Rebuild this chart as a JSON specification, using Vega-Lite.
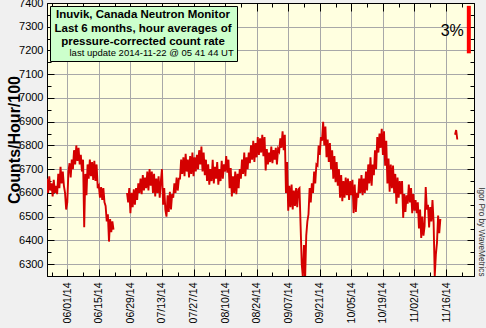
{
"$schema": "https://vega.github.io/schema/vega-lite/v6.json",
"width": 427, "height": 273,
"autosize": {"type": "none"},
"padding": {"left": 47, "top": 3, "right": 12, "bottom": 52},
"background": "#f0f0f0",
"config": {
  "font": "Liberation Sans",
  "view": {"fill": "#ffffe0", "stroke": "#000000", "strokeWidth": 1},
  "axis": {"domainColor": "#000000", "tickColor": "#000000", "gridColor": "#a8a8a8", "gridWidth": 1, "labelColor": "#000000", "labelFont": "Liberation Sans", "titleFont": "Liberation Sans", "labelOverlap": false, "labelFlush": false, "labelBound": false, "domainWidth": 1, "tickWidth": 1}
},
"datasets": {
  "counts": [
{"t":"2014-05-23T00:00Z","v":6660,"seg":"a"},{"t":"2014-05-23T12:00Z","v":6600,"seg":"a"},
{"t":"2014-05-24T00:00Z","v":6670,"seg":"a"},{"t":"2014-05-24T12:00Z","v":6610,"seg":"a"},
{"t":"2014-05-25T00:00Z","v":6640,"seg":"a"},{"t":"2014-05-25T12:00Z","v":6585,"seg":"a"},
{"t":"2014-05-26T00:00Z","v":6655,"seg":"a"},{"t":"2014-05-26T12:00Z","v":6600,"seg":"a"},
{"t":"2014-05-27T00:00Z","v":6630,"seg":"a"},{"t":"2014-05-27T12:00Z","v":6595,"seg":"a"},
{"t":"2014-05-28T00:00Z","v":6680,"seg":"a"},{"t":"2014-05-28T12:00Z","v":6620,"seg":"a"},
{"t":"2014-05-29T00:00Z","v":6710,"seg":"a"},{"t":"2014-05-29T12:00Z","v":6640,"seg":"a"},
{"t":"2014-05-30T00:00Z","v":6690,"seg":"a"},{"t":"2014-05-30T12:00Z","v":6630,"seg":"a"},
{"t":"2014-05-31T00:00Z","v":6600,"seg":"a"},{"t":"2014-05-31T12:00Z","v":6530,"seg":"a"},
{"t":"2014-06-01T00:00Z","v":6560,"seg":"a"},{"t":"2014-06-01T12:00Z","v":6690,"seg":"a"},
{"t":"2014-06-02T00:00Z","v":6725,"seg":"a"},{"t":"2014-06-02T12:00Z","v":6665,"seg":"a"},
{"t":"2014-06-03T00:00Z","v":6740,"seg":"a"},{"t":"2014-06-03T12:00Z","v":6700,"seg":"a"},
{"t":"2014-06-04T00:00Z","v":6780,"seg":"a"},{"t":"2014-06-04T12:00Z","v":6720,"seg":"a"},
{"t":"2014-06-05T00:00Z","v":6800,"seg":"a"},{"t":"2014-06-05T12:00Z","v":6735,"seg":"a"},
{"t":"2014-06-06T00:00Z","v":6790,"seg":"a"},{"t":"2014-06-06T12:00Z","v":6720,"seg":"a"},
{"t":"2014-06-07T00:00Z","v":6760,"seg":"a"},{"t":"2014-06-07T12:00Z","v":6690,"seg":"a"},
{"t":"2014-06-08T00:00Z","v":6740,"seg":"a"},{"t":"2014-06-08T12:00Z","v":6455,"seg":"a"},
{"t":"2014-06-09T00:00Z","v":6680,"seg":"a"},{"t":"2014-06-09T12:00Z","v":6590,"seg":"a"},
{"t":"2014-06-10T00:00Z","v":6720,"seg":"a"},{"t":"2014-06-10T12:00Z","v":6660,"seg":"a"},
{"t":"2014-06-11T00:00Z","v":6740,"seg":"a"},{"t":"2014-06-11T12:00Z","v":6670,"seg":"a"},
{"t":"2014-06-12T00:00Z","v":6730,"seg":"a"},{"t":"2014-06-12T12:00Z","v":6655,"seg":"a"},
{"t":"2014-06-13T00:00Z","v":6735,"seg":"a"},{"t":"2014-06-13T12:00Z","v":6650,"seg":"a"},
{"t":"2014-06-14T00:00Z","v":6720,"seg":"a"},{"t":"2014-06-14T12:00Z","v":6620,"seg":"a"},
{"t":"2014-06-15T00:00Z","v":6630,"seg":"a"},{"t":"2014-06-15T12:00Z","v":6580,"seg":"a"},
{"t":"2014-06-16T00:00Z","v":6625,"seg":"a"},{"t":"2014-06-16T12:00Z","v":6570,"seg":"a"},
{"t":"2014-06-17T00:00Z","v":6620,"seg":"a"},{"t":"2014-06-17T12:00Z","v":6560,"seg":"a"},
{"t":"2014-06-18T00:00Z","v":6545,"seg":"a"},{"t":"2014-06-18T12:00Z","v":6480,"seg":"a"},
{"t":"2014-06-19T00:00Z","v":6510,"seg":"a"},{"t":"2014-06-19T12:00Z","v":6395,"seg":"a"},
{"t":"2014-06-20T00:00Z","v":6490,"seg":"a"},{"t":"2014-06-20T12:00Z","v":6435,"seg":"a"},
{"t":"2014-06-21T00:00Z","v":6480,"seg":"a"},{"t":"2014-06-21T12:00Z","v":6445,"seg":"a"},
{"t":"2014-06-27T12:00Z","v":6600,"seg":"b"},
{"t":"2014-06-28T00:00Z","v":6560,"seg":"b"},{"t":"2014-06-28T12:00Z","v":6620,"seg":"b"},
{"t":"2014-06-29T00:00Z","v":6515,"seg":"b"},{"t":"2014-06-29T12:00Z","v":6600,"seg":"b"},
{"t":"2014-06-30T00:00Z","v":6540,"seg":"b"},{"t":"2014-06-30T12:00Z","v":6615,"seg":"b"},
{"t":"2014-07-01T00:00Z","v":6550,"seg":"b"},{"t":"2014-07-01T12:00Z","v":6620,"seg":"b"},
{"t":"2014-07-02T00:00Z","v":6570,"seg":"b"},{"t":"2014-07-02T12:00Z","v":6640,"seg":"b"},
{"t":"2014-07-03T00:00Z","v":6600,"seg":"b"},{"t":"2014-07-03T12:00Z","v":6660,"seg":"b"},
{"t":"2014-07-04T00:00Z","v":6595,"seg":"b"},{"t":"2014-07-04T12:00Z","v":6675,"seg":"b"},
{"t":"2014-07-05T00:00Z","v":6610,"seg":"b"},{"t":"2014-07-05T12:00Z","v":6665,"seg":"b"},
{"t":"2014-07-06T00:00Z","v":6620,"seg":"b"},{"t":"2014-07-06T12:00Z","v":6690,"seg":"b"},
{"t":"2014-07-07T00:00Z","v":6610,"seg":"b"},{"t":"2014-07-07T12:00Z","v":6700,"seg":"b"},
{"t":"2014-07-08T00:00Z","v":6630,"seg":"b"},{"t":"2014-07-08T12:00Z","v":6690,"seg":"b"},
{"t":"2014-07-09T00:00Z","v":6600,"seg":"b"},{"t":"2014-07-09T12:00Z","v":6680,"seg":"b"},
{"t":"2014-07-10T00:00Z","v":6585,"seg":"b"},{"t":"2014-07-10T12:00Z","v":6660,"seg":"b"},
{"t":"2014-07-11T00:00Z","v":6600,"seg":"b"},{"t":"2014-07-11T12:00Z","v":6670,"seg":"b"},
{"t":"2014-07-12T00:00Z","v":6580,"seg":"b"},{"t":"2014-07-12T12:00Z","v":6650,"seg":"b"},
{"t":"2014-07-13T00:00Z","v":6700,"seg":"b"},{"t":"2014-07-13T12:00Z","v":6550,"seg":"b"},
{"t":"2014-07-14T00:00Z","v":6620,"seg":"b"},{"t":"2014-07-14T12:00Z","v":6530,"seg":"b"},
{"t":"2014-07-15T00:00Z","v":6500,"seg":"b"},{"t":"2014-07-15T12:00Z","v":6590,"seg":"b"},
{"t":"2014-07-16T00:00Z","v":6520,"seg":"b"},{"t":"2014-07-16T12:00Z","v":6605,"seg":"b"},
{"t":"2014-07-17T00:00Z","v":6530,"seg":"b"},{"t":"2014-07-17T12:00Z","v":6595,"seg":"b"},
{"t":"2014-07-18T00:00Z","v":6580,"seg":"b"},{"t":"2014-07-18T12:00Z","v":6640,"seg":"b"},
{"t":"2014-07-19T00:00Z","v":6600,"seg":"b"},{"t":"2014-07-19T12:00Z","v":6665,"seg":"b"},
{"t":"2014-07-20T00:00Z","v":6610,"seg":"b"},{"t":"2014-07-20T12:00Z","v":6660,"seg":"b"},
{"t":"2014-07-21T00:00Z","v":6660,"seg":"b"},{"t":"2014-07-21T12:00Z","v":6740,"seg":"b"},
{"t":"2014-07-22T00:00Z","v":6680,"seg":"b"},{"t":"2014-07-22T12:00Z","v":6750,"seg":"b"},
{"t":"2014-07-23T00:00Z","v":6670,"seg":"b"},{"t":"2014-07-23T12:00Z","v":6765,"seg":"b"},
{"t":"2014-07-24T00:00Z","v":6690,"seg":"b"},{"t":"2014-07-24T12:00Z","v":6740,"seg":"b"},
{"t":"2014-07-25T00:00Z","v":6665,"seg":"b"},{"t":"2014-07-25T12:00Z","v":6755,"seg":"b"},
{"t":"2014-07-26T00:00Z","v":6680,"seg":"b"},{"t":"2014-07-26T12:00Z","v":6770,"seg":"b"},
{"t":"2014-07-27T00:00Z","v":6670,"seg":"b"},{"t":"2014-07-27T12:00Z","v":6750,"seg":"b"},
{"t":"2014-07-28T00:00Z","v":6690,"seg":"b"},{"t":"2014-07-28T12:00Z","v":6760,"seg":"b"},
{"t":"2014-07-29T00:00Z","v":6700,"seg":"b"},{"t":"2014-07-29T12:00Z","v":6780,"seg":"b"},
{"t":"2014-07-30T00:00Z","v":6720,"seg":"b"},{"t":"2014-07-30T12:00Z","v":6795,"seg":"b"},
{"t":"2014-07-31T00:00Z","v":6690,"seg":"b"},{"t":"2014-07-31T12:00Z","v":6770,"seg":"b"},
{"t":"2014-08-01T00:00Z","v":6675,"seg":"b"},{"t":"2014-08-01T12:00Z","v":6740,"seg":"b"},
{"t":"2014-08-02T00:00Z","v":6650,"seg":"b"},{"t":"2014-08-02T12:00Z","v":6720,"seg":"b"},
{"t":"2014-08-03T00:00Z","v":6635,"seg":"b"},{"t":"2014-08-03T12:00Z","v":6700,"seg":"b"},
{"t":"2014-08-04T00:00Z","v":6650,"seg":"b"},{"t":"2014-08-04T12:00Z","v":6740,"seg":"b"},
{"t":"2014-08-05T00:00Z","v":6640,"seg":"b"},{"t":"2014-08-05T12:00Z","v":6710,"seg":"b"},
{"t":"2014-08-06T00:00Z","v":6660,"seg":"b"},{"t":"2014-08-06T12:00Z","v":6730,"seg":"b"},
{"t":"2014-08-07T00:00Z","v":6635,"seg":"b"},{"t":"2014-08-07T12:00Z","v":6700,"seg":"b"},
{"t":"2014-08-08T00:00Z","v":6650,"seg":"b"},{"t":"2014-08-08T12:00Z","v":6735,"seg":"b"},
{"t":"2014-08-09T00:00Z","v":6660,"seg":"b"},{"t":"2014-08-09T12:00Z","v":6720,"seg":"b"},
{"t":"2014-08-10T00:00Z","v":6690,"seg":"b"},{"t":"2014-08-10T12:00Z","v":6755,"seg":"b"},
{"t":"2014-08-11T00:00Z","v":6685,"seg":"b"},{"t":"2014-08-11T12:00Z","v":6740,"seg":"b"},
{"t":"2014-08-12T00:00Z","v":6620,"seg":"b"},{"t":"2014-08-12T12:00Z","v":6705,"seg":"b"},
{"t":"2014-08-13T00:00Z","v":6585,"seg":"b"},{"t":"2014-08-13T12:00Z","v":6670,"seg":"b"},
{"t":"2014-08-14T00:00Z","v":6600,"seg":"b"},{"t":"2014-08-14T12:00Z","v":6690,"seg":"b"},
{"t":"2014-08-15T00:00Z","v":6595,"seg":"b"},{"t":"2014-08-15T12:00Z","v":6680,"seg":"b"},
{"t":"2014-08-16T00:00Z","v":6620,"seg":"b"},{"t":"2014-08-16T12:00Z","v":6700,"seg":"b"},
{"t":"2014-08-17T00:00Z","v":6660,"seg":"b"},{"t":"2014-08-17T12:00Z","v":6740,"seg":"b"},
{"t":"2014-08-18T00:00Z","v":6680,"seg":"b"},{"t":"2014-08-18T12:00Z","v":6770,"seg":"b"},
{"t":"2014-08-19T00:00Z","v":6670,"seg":"b"},{"t":"2014-08-19T12:00Z","v":6750,"seg":"b"},
{"t":"2014-08-20T00:00Z","v":6700,"seg":"b"},{"t":"2014-08-20T12:00Z","v":6770,"seg":"b"},
{"t":"2014-08-21T00:00Z","v":6725,"seg":"b"},{"t":"2014-08-21T12:00Z","v":6800,"seg":"b"},
{"t":"2014-08-22T00:00Z","v":6740,"seg":"b"},{"t":"2014-08-22T12:00Z","v":6820,"seg":"b"},
{"t":"2014-08-23T00:00Z","v":6730,"seg":"b"},{"t":"2014-08-23T12:00Z","v":6810,"seg":"b"},
{"t":"2014-08-24T00:00Z","v":6750,"seg":"b"},{"t":"2014-08-24T12:00Z","v":6835,"seg":"b"},
{"t":"2014-08-25T00:00Z","v":6760,"seg":"b"},{"t":"2014-08-25T12:00Z","v":6830,"seg":"b"},
{"t":"2014-08-26T00:00Z","v":6770,"seg":"b"},{"t":"2014-08-26T12:00Z","v":6845,"seg":"b"},
{"t":"2014-08-27T00:00Z","v":6755,"seg":"b"},{"t":"2014-08-27T12:00Z","v":6835,"seg":"b"},
{"t":"2014-08-28T00:00Z","v":6695,"seg":"b"},{"t":"2014-08-28T12:00Z","v":6785,"seg":"b"},
{"t":"2014-08-29T00:00Z","v":6720,"seg":"b"},{"t":"2014-08-29T12:00Z","v":6770,"seg":"b"},
{"t":"2014-08-30T00:00Z","v":6730,"seg":"b"},{"t":"2014-08-30T12:00Z","v":6795,"seg":"b"},
{"t":"2014-08-31T00:00Z","v":6725,"seg":"b"},{"t":"2014-08-31T12:00Z","v":6780,"seg":"b"},
{"t":"2014-09-01T00:00Z","v":6740,"seg":"b"},{"t":"2014-09-01T12:00Z","v":6790,"seg":"b"},
{"t":"2014-09-02T00:00Z","v":6720,"seg":"b"},{"t":"2014-09-02T12:00Z","v":6785,"seg":"b"},
{"t":"2014-09-03T00:00Z","v":6775,"seg":"b"},{"t":"2014-09-03T12:00Z","v":6830,"seg":"b"},
{"t":"2014-09-04T00:00Z","v":6790,"seg":"b"},{"t":"2014-09-04T12:00Z","v":6860,"seg":"b"},
{"t":"2014-09-05T00:00Z","v":6780,"seg":"b"},{"t":"2014-09-05T12:00Z","v":6845,"seg":"b"},
{"t":"2014-09-06T00:00Z","v":6600,"seg":"b"},{"t":"2014-09-06T12:00Z","v":6730,"seg":"b"},
{"t":"2014-09-07T00:00Z","v":6525,"seg":"b"},{"t":"2014-09-07T12:00Z","v":6630,"seg":"b"},
{"t":"2014-09-08T00:00Z","v":6540,"seg":"b"},{"t":"2014-09-08T12:00Z","v":6635,"seg":"b"},
{"t":"2014-09-09T00:00Z","v":6530,"seg":"b"},{"t":"2014-09-09T12:00Z","v":6610,"seg":"b"},
{"t":"2014-09-10T00:00Z","v":6545,"seg":"b"},{"t":"2014-09-10T12:00Z","v":6620,"seg":"b"},
{"t":"2014-09-11T00:00Z","v":6540,"seg":"b"},{"t":"2014-09-11T12:00Z","v":6615,"seg":"b"},
{"t":"2014-09-12T00:00Z","v":6620,"seg":"b"},{"t":"2014-09-12T12:00Z","v":6460,"seg":"b"},
{"t":"2014-09-13T00:00Z","v":6300,"seg":"b"},{"t":"2014-09-13T12:00Z","v":6245,"seg":"b"},
{"t":"2014-09-14T00:00Z","v":6380,"seg":"b"},{"t":"2014-09-14T12:00Z","v":6240,"seg":"b"},
{"t":"2014-09-15T00:00Z","v":6420,"seg":"b"},{"t":"2014-09-15T12:00Z","v":6480,"seg":"b"},
{"t":"2014-09-16T00:00Z","v":6510,"seg":"b"},{"t":"2014-09-16T12:00Z","v":6620,"seg":"b"},
{"t":"2014-09-17T00:00Z","v":6560,"seg":"b"},{"t":"2014-09-17T12:00Z","v":6640,"seg":"b"},
{"t":"2014-09-18T00:00Z","v":6600,"seg":"b"},{"t":"2014-09-18T12:00Z","v":6690,"seg":"b"},
{"t":"2014-09-19T00:00Z","v":6640,"seg":"b"},{"t":"2014-09-19T12:00Z","v":6720,"seg":"b"},
{"t":"2014-09-20T00:00Z","v":6715,"seg":"b"},{"t":"2014-09-20T12:00Z","v":6800,"seg":"b"},
{"t":"2014-09-21T00:00Z","v":6760,"seg":"b"},{"t":"2014-09-21T12:00Z","v":6835,"seg":"b"},
{"t":"2014-09-22T00:00Z","v":6820,"seg":"b"},{"t":"2014-09-22T12:00Z","v":6900,"seg":"b"},
{"t":"2014-09-23T00:00Z","v":6800,"seg":"b"},{"t":"2014-09-23T12:00Z","v":6880,"seg":"b"},
{"t":"2014-09-24T00:00Z","v":6750,"seg":"b"},{"t":"2014-09-24T12:00Z","v":6825,"seg":"b"},
{"t":"2014-09-25T00:00Z","v":6730,"seg":"b"},{"t":"2014-09-25T12:00Z","v":6810,"seg":"b"},
{"t":"2014-09-26T00:00Z","v":6700,"seg":"b"},{"t":"2014-09-26T12:00Z","v":6780,"seg":"b"},
{"t":"2014-09-27T00:00Z","v":6660,"seg":"b"},{"t":"2014-09-27T12:00Z","v":6755,"seg":"b"},
{"t":"2014-09-28T00:00Z","v":6645,"seg":"b"},{"t":"2014-09-28T12:00Z","v":6730,"seg":"b"},
{"t":"2014-09-29T00:00Z","v":6630,"seg":"b"},{"t":"2014-09-29T12:00Z","v":6700,"seg":"b"},
{"t":"2014-09-30T00:00Z","v":6580,"seg":"b"},{"t":"2014-09-30T12:00Z","v":6675,"seg":"b"},
{"t":"2014-10-01T00:00Z","v":6565,"seg":"b"},{"t":"2014-10-01T12:00Z","v":6650,"seg":"b"},
{"t":"2014-10-02T00:00Z","v":6580,"seg":"b"},{"t":"2014-10-02T12:00Z","v":6665,"seg":"b"},
{"t":"2014-10-03T00:00Z","v":6590,"seg":"b"},{"t":"2014-10-03T12:00Z","v":6660,"seg":"b"},
{"t":"2014-10-04T00:00Z","v":6570,"seg":"b"},{"t":"2014-10-04T12:00Z","v":6650,"seg":"b"},
{"t":"2014-10-05T00:00Z","v":6590,"seg":"b"},{"t":"2014-10-05T12:00Z","v":6655,"seg":"b"},
{"t":"2014-10-06T00:00Z","v":6515,"seg":"b"},{"t":"2014-10-06T12:00Z","v":6635,"seg":"b"},
{"t":"2014-10-07T00:00Z","v":6520,"seg":"b"},{"t":"2014-10-07T12:00Z","v":6600,"seg":"b"},
{"t":"2014-10-08T00:00Z","v":6580,"seg":"b"},{"t":"2014-10-08T12:00Z","v":6660,"seg":"b"},
{"t":"2014-10-09T00:00Z","v":6600,"seg":"b"},{"t":"2014-10-09T12:00Z","v":6675,"seg":"b"},
{"t":"2014-10-10T00:00Z","v":6590,"seg":"b"},{"t":"2014-10-10T12:00Z","v":6660,"seg":"b"},
{"t":"2014-10-11T00:00Z","v":6600,"seg":"b"},{"t":"2014-10-11T12:00Z","v":6690,"seg":"b"},
{"t":"2014-10-12T00:00Z","v":6610,"seg":"b"},{"t":"2014-10-12T12:00Z","v":6720,"seg":"b"},
{"t":"2014-10-13T00:00Z","v":6640,"seg":"b"},{"t":"2014-10-13T12:00Z","v":6750,"seg":"b"},
{"t":"2014-10-14T00:00Z","v":6630,"seg":"b"},{"t":"2014-10-14T12:00Z","v":6720,"seg":"b"},
{"t":"2014-10-15T00:00Z","v":6675,"seg":"b"},{"t":"2014-10-15T12:00Z","v":6780,"seg":"b"},
{"t":"2014-10-16T00:00Z","v":6700,"seg":"b"},{"t":"2014-10-16T12:00Z","v":6835,"seg":"b"},
{"t":"2014-10-17T00:00Z","v":6770,"seg":"b"},{"t":"2014-10-17T12:00Z","v":6850,"seg":"b"},
{"t":"2014-10-18T00:00Z","v":6790,"seg":"b"},{"t":"2014-10-18T12:00Z","v":6870,"seg":"b"},
{"t":"2014-10-19T00:00Z","v":6760,"seg":"b"},{"t":"2014-10-19T12:00Z","v":6860,"seg":"b"},
{"t":"2014-10-20T00:00Z","v":6715,"seg":"b"},{"t":"2014-10-20T12:00Z","v":6820,"seg":"b"},
{"t":"2014-10-21T00:00Z","v":6640,"seg":"b"},{"t":"2014-10-21T12:00Z","v":6745,"seg":"b"},
{"t":"2014-10-22T00:00Z","v":6605,"seg":"b"},{"t":"2014-10-22T12:00Z","v":6720,"seg":"b"},
{"t":"2014-10-23T00:00Z","v":6620,"seg":"b"},{"t":"2014-10-23T12:00Z","v":6715,"seg":"b"},
{"t":"2014-10-24T00:00Z","v":6600,"seg":"b"},{"t":"2014-10-24T12:00Z","v":6680,"seg":"b"},
{"t":"2014-10-25T00:00Z","v":6555,"seg":"b"},{"t":"2014-10-25T12:00Z","v":6665,"seg":"b"},
{"t":"2014-10-26T00:00Z","v":6580,"seg":"b"},{"t":"2014-10-26T12:00Z","v":6650,"seg":"b"},
{"t":"2014-10-27T00:00Z","v":6595,"seg":"b"},{"t":"2014-10-27T12:00Z","v":6650,"seg":"b"},
{"t":"2014-10-28T00:00Z","v":6495,"seg":"b"},{"t":"2014-10-28T12:00Z","v":6595,"seg":"b"},
{"t":"2014-10-29T00:00Z","v":6520,"seg":"b"},{"t":"2014-10-29T12:00Z","v":6590,"seg":"b"},
{"t":"2014-10-30T00:00Z","v":6555,"seg":"b"},{"t":"2014-10-30T12:00Z","v":6635,"seg":"b"},
{"t":"2014-10-31T00:00Z","v":6560,"seg":"b"},{"t":"2014-10-31T12:00Z","v":6620,"seg":"b"},
{"t":"2014-11-01T00:00Z","v":6515,"seg":"b"},{"t":"2014-11-01T12:00Z","v":6595,"seg":"b"},
{"t":"2014-11-02T00:00Z","v":6525,"seg":"b"},{"t":"2014-11-02T12:00Z","v":6570,"seg":"b"},
{"t":"2014-11-03T00:00Z","v":6515,"seg":"b"},{"t":"2014-11-03T12:00Z","v":6560,"seg":"b"},
{"t":"2014-11-04T00:00Z","v":6450,"seg":"b"},{"t":"2014-11-04T12:00Z","v":6530,"seg":"b"},
{"t":"2014-11-05T00:00Z","v":6410,"seg":"b"},{"t":"2014-11-05T12:00Z","v":6500,"seg":"b"},
{"t":"2014-11-06T00:00Z","v":6420,"seg":"b"},{"t":"2014-11-06T12:00Z","v":6460,"seg":"b"},
{"t":"2014-11-07T00:00Z","v":6625,"seg":"b"},{"t":"2014-11-07T12:00Z","v":6530,"seg":"b"},
{"t":"2014-11-08T00:00Z","v":6550,"seg":"b"},{"t":"2014-11-08T12:00Z","v":6455,"seg":"b"},
{"t":"2014-11-09T00:00Z","v":6540,"seg":"b"},{"t":"2014-11-09T12:00Z","v":6480,"seg":"b"},
{"t":"2014-11-10T00:00Z","v":6570,"seg":"b"},{"t":"2014-11-10T12:00Z","v":6475,"seg":"b"},
{"t":"2014-11-11T00:00Z","v":6250,"seg":"b"},{"t":"2014-11-11T12:00Z","v":6340,"seg":"b"},
{"t":"2014-11-12T00:00Z","v":6390,"seg":"b"},{"t":"2014-11-12T12:00Z","v":6505,"seg":"b"},
{"t":"2014-11-13T00:00Z","v":6430,"seg":"b"},{"t":"2014-11-13T12:00Z","v":6490,"seg":"b"},
{"t":"2014-11-20T00:00Z","v":6845,"seg":"c"},{"t":"2014-11-20T12:00Z","v":6865,"seg":"c"},
{"t":"2014-11-21T00:00Z","v":6825,"seg":"c"}
  ],
  "scalebar": [
    {"t": "2014-11-26T03:00Z", "hi": 7388, "lo": 7188, "mid": 7282, "label": "3%", "note": "last update 2014-11-22 @ 05 41 44 UT"}
  ]
},
"layer": [
  {
    "data": {"name": "counts"},
    "mark": {"type": "line", "color": "#d40000", "strokeWidth": 1.9, "clip": true},
    "encoding": {
      "x": {"field": "t", "type": "temporal",
        "scale": {"type": "utc", "domain": [{"year": 2014, "month": 5, "date": 23, "utc": true}, {"year": 2014, "month": 11, "date": 28, "hours": 10, "utc": true}]},
        "axis": {"orient": "bottom", "title": null, "grid": true,
          "values": [{"year":2014,"month":5,"date":25,"utc":true},{"year":2014,"month":6,"date":1,"utc":true},{"year":2014,"month":6,"date":8,"utc":true},{"year":2014,"month":6,"date":15,"utc":true},{"year":2014,"month":6,"date":22,"utc":true},{"year":2014,"month":6,"date":29,"utc":true},{"year":2014,"month":7,"date":6,"utc":true},{"year":2014,"month":7,"date":13,"utc":true},{"year":2014,"month":7,"date":20,"utc":true},{"year":2014,"month":7,"date":27,"utc":true},{"year":2014,"month":8,"date":3,"utc":true},{"year":2014,"month":8,"date":10,"utc":true},{"year":2014,"month":8,"date":17,"utc":true},{"year":2014,"month":8,"date":24,"utc":true},{"year":2014,"month":8,"date":31,"utc":true},{"year":2014,"month":9,"date":7,"utc":true},{"year":2014,"month":9,"date":14,"utc":true},{"year":2014,"month":9,"date":21,"utc":true},{"year":2014,"month":9,"date":28,"utc":true},{"year":2014,"month":10,"date":5,"utc":true},{"year":2014,"month":10,"date":12,"utc":true},{"year":2014,"month":10,"date":19,"utc":true},{"year":2014,"month":10,"date":26,"utc":true},{"year":2014,"month":11,"date":2,"utc":true},{"year":2014,"month":11,"date":9,"utc":true},{"year":2014,"month":11,"date":16,"utc":true},{"year":2014,"month":11,"date":23,"utc":true}],
          "labelExpr": "round((datum.value - 1401580800000) / 86400000) % 14 == 0 ? utcFormat(datum.value, '%m/%d/%y') : ''",
          "gridOpacity": {"condition": {"test": "round((datum.value - 1401580800000) / 86400000) % 14 == 0", "value": 1}, "value": 0},
          "tickSize": {"condition": {"test": "round((datum.value - 1401580800000) / 86400000) % 14 == 0", "value": -7}, "value": -4},
          "labelAngle": -90, "labelAlign": "right", "labelBaseline": "middle", "labelFontSize": 10.5, "labelPadding": 13
        }
      },
      "y": {"field": "v", "type": "quantitative",
        "scale": {"domain": [6250, 7400], "nice": false, "zero": false},
        "axis": {"orient": "left", "grid": true,
          "values": [6250,6300,6350,6400,6450,6500,6550,6600,6650,6700,6750,6800,6850,6900,6950,7000,7050,7100,7150,7200,7250,7300,7350,7400],
          "labelExpr": "datum.value % 100 == 0 ? format(datum.value, 'd') : ''",
          "gridOpacity": {"condition": {"test": "datum.value % 100 == 0", "value": 1}, "value": 0},
          "tickSize": {"condition": {"test": "datum.value % 100 == 0", "value": -7}, "value": -4},
          "labelFontSize": 11, "labelPadding": 11,
          "title": "Counts/Hour/100", "titleFontSize": 16, "titleFontWeight": "bold", "titleColor": "#000000", "titlePadding": -4
        }
      },
      "detail": {"field": "seg"}
    }
  },
  {
    "data": {"name": "scalebar"},
    "mark": {"type": "rule", "strokeWidth": 4},
    "encoding": {
      "x": {"field": "t", "type": "temporal",
        "axis": {"orient": "top", "title": null, "grid": false, "labels": false,
          "values": [{"year":2014,"month":5,"date":25,"utc":true},{"year":2014,"month":6,"date":1,"utc":true},{"year":2014,"month":6,"date":8,"utc":true},{"year":2014,"month":6,"date":15,"utc":true},{"year":2014,"month":6,"date":22,"utc":true},{"year":2014,"month":6,"date":29,"utc":true},{"year":2014,"month":7,"date":6,"utc":true},{"year":2014,"month":7,"date":13,"utc":true},{"year":2014,"month":7,"date":20,"utc":true},{"year":2014,"month":7,"date":27,"utc":true},{"year":2014,"month":8,"date":3,"utc":true},{"year":2014,"month":8,"date":10,"utc":true},{"year":2014,"month":8,"date":17,"utc":true},{"year":2014,"month":8,"date":24,"utc":true},{"year":2014,"month":8,"date":31,"utc":true},{"year":2014,"month":9,"date":7,"utc":true},{"year":2014,"month":9,"date":14,"utc":true},{"year":2014,"month":9,"date":21,"utc":true},{"year":2014,"month":9,"date":28,"utc":true},{"year":2014,"month":10,"date":5,"utc":true},{"year":2014,"month":10,"date":12,"utc":true},{"year":2014,"month":10,"date":19,"utc":true},{"year":2014,"month":10,"date":26,"utc":true},{"year":2014,"month":11,"date":2,"utc":true},{"year":2014,"month":11,"date":9,"utc":true},{"year":2014,"month":11,"date":16,"utc":true},{"year":2014,"month":11,"date":23,"utc":true}],
          "tickSize": {"condition": {"test": "round((datum.value - 1401580800000) / 86400000) % 14 == 0", "value": -8}, "value": -4}
        }
      },
      "y": {"field": "hi", "type": "quantitative",
        "axis": {"orient": "right", "grid": false, "labels": false,
          "values": [6250,6300,6350,6400,6450,6500,6550,6600,6650,6700,6750,6800,6850,6900,6950,7000,7050,7100,7150,7200,7250,7300,7350,7400],
          "tickSize": {"condition": {"test": "datum.value % 100 == 0", "value": -7}, "value": -4},
          "title": "Igor Pro by WaveMetrics", "titleFontSize": 8.2, "titleFontWeight": "normal", "titleColor": "#333333", "titleAngle": 90, "titleAnchor": "start", "titleAlign": "right", "titlePadding": 2
        }
      },
      "y2": {"field": "lo"},
      "color": {"field": "note", "type": "nominal", "scale": {"range": ["#ff0000"]},
        "legend": {
          "title": ["Inuvik, Canada Neutron Monitor", "Last 6 months, hour averages of", "pressure-corrected count rate"],
          "orient": "top-left", "offset": 3, "padding": 3,
          "fillColor": "#ccffcc", "strokeColor": "#000000",
          "titleFontSize": 11.5, "titleFontWeight": "bold", "titleColor": "#000000", "titleLineHeight": 13.5, "titleAlign": "center", "titleAnchor": "middle", "titlePadding": 1,
          "labelFontSize": 9.5, "labelColor": "#000000", "labelOffset": 7, "labelLimit": 300,
          "symbolSize": 0, "symbolOpacity": 0, "symbolStrokeWidth": 0
        }
      }
    }
  },
  {
    "data": {"name": "scalebar"},
    "mark": {"type": "text", "align": "right", "baseline": "middle", "dx": -5, "fontSize": 16, "font": "Liberation Sans", "color": "#000000"},
    "encoding": {
      "x": {"field": "t", "type": "temporal", "axis": null},
      "y": {"field": "mid", "type": "quantitative", "axis": null},
      "text": {"field": "label"}
    }
  }
],
"resolve": {"axis": {"x": "independent", "y": "independent"}}
}
